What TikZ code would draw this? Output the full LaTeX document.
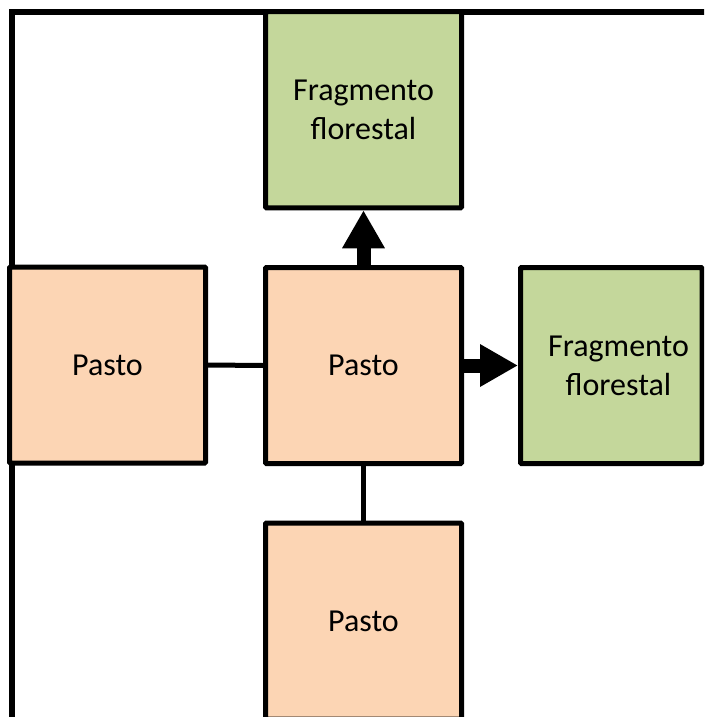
\documentclass[tikz,border=0pt]{standalone}
\usepackage{fontspec}
\setmainfont{Carlito}
\usetikzlibrary{arrows.meta}
\definecolor{pasto}{HTML}{FCD5B4}
\definecolor{frag}{HTML}{C4D79B}
\begin{document}
\begin{tikzpicture}[x=1pt,y=-1pt,
  box/.style={draw=black, line width=5pt, minimum width=196pt, minimum height=196pt,
    inner sep=0pt, align=center, font=\fontsize{32}{39}\selectfont, rounded corners=1pt},
  pastobox/.style={box, fill=pasto},
  fragbox/.style={box, fill=frag},
  link/.style={draw=black, line width=5pt},
  blockarrow/.style={draw=black, line width=14pt, -{Triangle[length=38pt,width=40pt]}}]
\useasboundingbox (0,0) rectangle (704,717);
\clip (0,0) rectangle (704,717);
% frame
\coordinate (fbl) at (12,740);
\coordinate (ftl) at (12,12);
\coordinate (ftr) at (740,12);
\draw[line width=6pt] (fbl) -- (ftl) -- (ftr);
% boxes
\node[fragbox]  (t) at (363.5,109.75) {Fragmento\\florestal};
\node[pastobox] (c) at (363.5,365.5) {Pasto};
\node[pastobox] (l) at (107.5,365) {Pasto};
\node[fragbox, minimum width=181.5pt] (r) at (611.25,365.5) {\hspace*{14.5pt}Fragmento\\\hspace*{14.5pt}florestal};
\node[pastobox] (b) at (363.5,621) {Pasto};
% connectors
\draw[link] (l.east) -- (c.west);
\draw[link] (c.south) -- (b.north);
\draw[blockarrow] (c.north) -- (t.south);
\draw[blockarrow] (c.east) -- (r.west);
\end{tikzpicture}
\end{document}
